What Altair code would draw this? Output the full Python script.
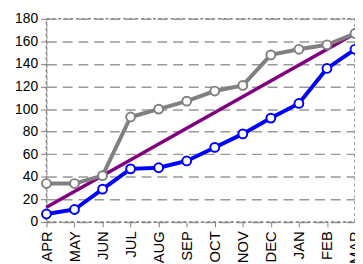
import altair as alt
import pandas as pd

months = ["APR", "MAY", "JUN", "JUL", "AUG", "SEP", "OCT", "NOV", "DEC", "JAN", "FEB", "MAR"]
gray_vals = [34, 34, 41, 93, 100, 107, 116, 121, 148, 153, 157, 167]
blue_vals = [7, 11, 29, 47, 48, 54, 66, 78, 92, 105, 136, 153]
trend_months = ["APR", "MAR"]
trend_vals = [13, 167]

df_gray = pd.DataFrame({"month": months, "value": gray_vals})
df_blue = pd.DataFrame({"month": months, "value": blue_vals})
df_trend = pd.DataFrame({"month": trend_months, "value": trend_vals})

x = alt.X("month:N", sort=months, scale=alt.Scale(type="point", padding=0, domain=months),
          axis=alt.Axis(title=None, labelAngle=-90, labelFontSize=15, labelFont="Liberation Sans",
                        labelColor="black", tickColor="#808080", tickSize=5, labelPadding=4,
                        domainColor="#808080", domainDash=[3, 3], grid=False))
y = alt.Y("value:Q", scale=alt.Scale(domain=[0, 180], nice=False),
          axis=alt.Axis(title=None, values=list(range(0, 181, 20)), labelFontSize=14,
                        labelFont="Liberation Sans", labelColor="black", tickColor="#808080",
                        tickSize=6, labelPadding=3, domainColor="#808080", domainDash=[3, 3],
                        grid=True, gridColor="#999999", gridDash=[10, 6], gridWidth=1.5))

trend = alt.Chart(df_trend).mark_line(color="#800080", strokeWidth=3.5).encode(x=x, y=y)
gray = alt.Chart(df_gray).mark_line(color="#808080", strokeWidth=4,
                                    point=alt.OverlayMarkDef(filled=True, fill="white", stroke="#808080",
                                                             strokeWidth=2, size=80)).encode(x=x, y=y)
blue = alt.Chart(df_blue).mark_line(color="#0000FF", strokeWidth=4,
                                    point=alt.OverlayMarkDef(filled=True, fill="white", stroke="#0000FF",
                                                             strokeWidth=2, size=80)).encode(x=x, y=y)

chart = alt.layer(trend, gray, blue).properties(
    width=313, height=206,
    autosize=alt.AutoSizeParams(type="none"),
    padding={"left": 39, "top": 9, "right": 0, "bottom": 60},
).configure_view(stroke="#808080", strokeDash=[3, 3], strokeWidth=1.5)

chart.save("out.html", embed_options={"renderer": "svg", "actions": False})
